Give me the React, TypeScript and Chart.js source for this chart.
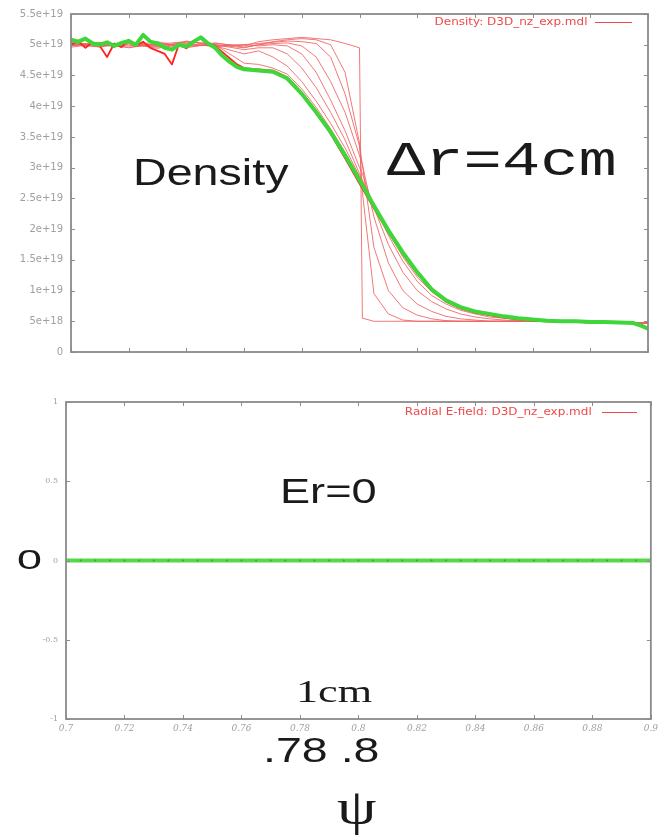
import React, { useEffect, useRef } from "react";
import { Chart, registerables } from "chart.js";
Chart.register(...registerables);

// ---------- Density panel (values in units of 1e19 m^-3) ----------
const psiMain = [
  0.7, 0.7025, 0.705, 0.7075, 0.71, 0.7125, 0.715, 0.7175, 0.72, 0.7225, 0.725, 0.7275, 0.73,
  0.7325, 0.735, 0.7375, 0.74, 0.7425, 0.745, 0.7475, 0.75, 0.7525, 0.755, 0.7575, 0.76,
  0.765, 0.77, 0.775, 0.78, 0.785, 0.79, 0.795, 0.8, 0.805, 0.81, 0.815, 0.82, 0.825, 0.83,
  0.835, 0.84, 0.845, 0.85, 0.855, 0.86, 0.865, 0.87, 0.875, 0.88, 0.885, 0.89, 0.895, 0.898, 0.9,
];
const densityGreen = [
  5.08, 5.05, 5.1, 5.02, 5.0, 5.04, 4.98, 5.03, 5.06, 5.0, 5.16, 5.05, 5.02,
  4.95, 4.92, 5.0, 4.97, 5.05, 5.12, 5.02, 4.95, 4.82, 4.72, 4.64, 4.6,
  4.58, 4.56, 4.45, 4.2, 3.9, 3.58, 3.2, 2.8, 2.38, 1.98, 1.62, 1.3, 1.02, 0.84,
  0.73, 0.66, 0.62, 0.58, 0.55, 0.53, 0.51, 0.5, 0.5, 0.49, 0.49, 0.48, 0.47, 0.42, 0.38,
];
const densityRed = [
  5.0, 5.06, 4.95, 5.04, 4.98, 4.8, 5.02, 4.96, 5.08, 4.98, 5.05, 4.95, 4.9,
  4.85, 4.68, 5.02, 4.94, 5.06, 5.1, 5.0, 4.98, 4.88, 4.78, 4.68, 4.62,
  4.6, 4.58, 4.47, 4.22, 3.92, 3.55, 3.15, 2.74, 2.34, 1.95, 1.6, 1.28, 1.0, 0.82,
  0.71, 0.64, 0.6, 0.56, 0.53, 0.51, 0.5, 0.49, 0.49, 0.48, 0.48, 0.47, 0.47, 0.44, 0.36,
];

const psiFan = [
  0.7, 0.71, 0.72, 0.73, 0.74, 0.75, 0.76, 0.765, 0.77, 0.775, 0.78, 0.785, 0.79, 0.795, 0.8,
  0.801, 0.805, 0.81, 0.815, 0.82, 0.825, 0.83, 0.835, 0.84, 0.845, 0.85, 0.86, 0.87, 0.88, 0.89, 0.9,
];
const fan0 = [5.02, 4.96, 5.05, 4.98, 5.04, 5.02, 4.98, 5.05, 5.08, 5.1, 5.12, 5.1, 5.08, 5.02, 4.95,
  0.55, 0.5, 0.5, 0.5, 0.5, 0.5, 0.5, 0.5, 0.5, 0.5, 0.5, 0.5, 0.5, 0.5, 0.49, 0.47];
const fan1 = [4.98, 5.04, 4.95, 5.02, 4.97, 5.0, 4.95, 5.0, 5.05, 5.08, 5.1, 5.08, 5.0, 4.55, 3.4,
  2.6, 0.95, 0.62, 0.52, 0.5, 0.5, 0.5, 0.5, 0.5, 0.5, 0.5, 0.5, 0.5, 0.5, 0.49, 0.47];
const fan2 = [5.05, 4.98, 5.02, 4.94, 5.06, 4.98, 5.0, 5.02, 5.04, 5.06, 5.05, 5.02, 4.8, 4.2, 3.35,
  3.05, 1.7, 1.0, 0.72, 0.6, 0.54, 0.51, 0.5, 0.5, 0.5, 0.5, 0.5, 0.5, 0.5, 0.49, 0.47];
const fan3 = [4.96, 5.02, 4.98, 5.05, 4.95, 5.03, 4.96, 5.0, 5.02, 5.03, 4.98, 4.8, 4.4, 3.9, 3.2,
  3.05, 2.2, 1.45, 1.0, 0.78, 0.66, 0.58, 0.54, 0.52, 0.5, 0.5, 0.5, 0.5, 0.5, 0.49, 0.47];
const fan4 = [5.0, 4.97, 5.04, 4.99, 5.02, 4.97, 5.0, 4.98, 5.0, 4.98, 4.85, 4.55, 4.1, 3.6, 3.0,
  2.9, 2.35, 1.75, 1.3, 1.0, 0.82, 0.7, 0.62, 0.57, 0.54, 0.52, 0.5, 0.5, 0.5, 0.49, 0.47];
const fan5 = [5.03, 4.99, 4.96, 5.01, 5.05, 5.0, 4.92, 4.95, 4.95, 4.85, 4.62, 4.3, 3.9, 3.45, 2.9,
  2.8, 2.4, 1.9, 1.48, 1.15, 0.92, 0.78, 0.68, 0.62, 0.57, 0.55, 0.51, 0.5, 0.5, 0.49, 0.47];
const fan6 = [4.99, 5.03, 5.0, 4.96, 5.0, 4.98, 4.85, 4.9, 4.8, 4.65, 4.4, 4.08, 3.72, 3.32, 2.86,
  2.77, 2.4, 1.95, 1.55, 1.22, 0.98, 0.82, 0.71, 0.65, 0.6, 0.57, 0.53, 0.51, 0.5, 0.49, 0.47];
const fan7 = [5.01, 5.0, 5.03, 4.97, 4.99, 5.0, 4.7, 4.68, 4.62, 4.52, 4.28, 3.98, 3.63, 3.25, 2.82,
  2.74, 2.38, 1.97, 1.58, 1.26, 1.0, 0.84, 0.73, 0.66, 0.62, 0.58, 0.53, 0.51, 0.5, 0.49, 0.47];
const fans = [fan0, fan1, fan2, fan3, fan4, fan5, fan6, fan7];

// ---------- Radial E-field panel ----------
const psiE = [
  0.7, 0.705, 0.71, 0.715, 0.72, 0.725, 0.73, 0.735, 0.74, 0.745, 0.75, 0.755, 0.76, 0.765,
  0.77, 0.775, 0.78, 0.785, 0.79, 0.795, 0.8, 0.805, 0.81, 0.815, 0.82, 0.825, 0.83, 0.835,
  0.84, 0.845, 0.85, 0.855, 0.86, 0.865, 0.87, 0.875, 0.88, 0.885, 0.89, 0.895, 0.9,
];
const erGreen = [
  0, 0, 0, 0, 0, 0, 0, 0, 0, 0, 0, 0, 0, 0, 0, 0, 0, 0, 0, 0, 0,
  0, 0, 0, 0, 0, 0, 0, 0, 0, 0, 0, 0, 0, 0, 0, 0, 0, 0, 0, 0,
];
const erRed = [
  0, 0, 0, 0, 0, 0, 0, 0, 0, 0, 0, 0, 0, 0, 0, 0, 0, 0, 0, 0, 0,
  0, 0, 0, 0, 0, 0, 0, 0, 0, 0, 0, 0, 0, 0, 0, 0, 0, 0, 0, 0,
];

const GREEN = "#3fd63a";
const RED = "#ff2222";
const PINK = "rgba(238,96,96,0.85)";

function pts(xs: number[], ys: number[]) {
  return xs.map((x, i) => ({ x, y: ys[i] }));
}

function fmtDensity(v: number) {
  if (Math.abs(v) < 1e-9) return "0";
  if (v < 1) return `${Math.round(v * 10)}e+18`;
  return `${Number(v.toFixed(1))}e+19`;
}

const boxPlugin = {
  id: "gnuBox",
  afterDraw(chart: any) {
    const { ctx, chartArea: a, scales } = chart;
    const L = 4;
    ctx.save();
    ctx.strokeStyle = "#8c8c8c";
    ctx.lineWidth = 1;
    ctx.beginPath();
    scales.x.ticks.forEach((t: any) => {
      const px = Math.round(scales.x.getPixelForValue(t.value)) + 0.5;
      ctx.moveTo(px, a.bottom);
      ctx.lineTo(px, a.bottom - L);
      ctx.moveTo(px, a.top);
      ctx.lineTo(px, a.top + L);
    });
    scales.y.ticks.forEach((t: any) => {
      const py = Math.round(scales.y.getPixelForValue(t.value)) + 0.5;
      ctx.moveTo(a.left, py);
      ctx.lineTo(a.left + L, py);
      ctx.moveTo(a.right, py);
      ctx.lineTo(a.right - L, py);
    });
    ctx.stroke();
    ctx.lineWidth = 1.8;
    ctx.strokeStyle = "#8a8a8a";
    ctx.strokeRect(a.left, a.top, a.right - a.left, a.bottom - a.top);
    ctx.restore();
  },
};

const lineBase = { pointRadius: 0, tension: 0, borderJoinStyle: "round" as const, fill: false };
const noGrid = { display: false, drawTicks: false, tickLength: 0 };

export default function App() {
  const topRef = useRef<HTMLCanvasElement>(null);
  const botRef = useRef<HTMLCanvasElement>(null);

  useEffect(() => {
    const top = new Chart(topRef.current!, {
      type: "line",
      data: {
        datasets: [
          { ...lineBase, data: pts(psiMain, densityGreen), borderColor: GREEN, borderWidth: 4 },
          { ...lineBase, data: pts(psiMain, densityRed), borderColor: RED, borderWidth: 1.8 },
          ...fans.map((f) => ({ ...lineBase, data: pts(psiFan, f), borderColor: PINK, borderWidth: 1 })),
        ],
      },
      options: {
        animation: false,
        responsive: false,
        events: [],
        plugins: { legend: { display: false }, tooltip: { enabled: false } },
        layout: { padding: { left: 0, right: 14, top: 12, bottom: 0 } },
        scales: {
          x: {
            type: "linear",
            min: 0.7,
            max: 0.9,
            ticks: { display: false, stepSize: 0.02 },
            grid: noGrid,
            border: { display: false },
            afterFit: (s: any) => {
              s.height = 18;
            },
          },
          y: {
            min: 0,
            max: 5.5,
            ticks: {
              stepSize: 0.5,
              padding: 8,
              color: "#a0a0a0",
              font: { family: "DejaVu Sans", size: 10 },
              callback: (v: any) => fmtDensity(Number(v)),
            },
            grid: noGrid,
            border: { display: false },
            afterFit: (s: any) => {
              s.width = 71;
            },
          },
        },
      },
      plugins: [boxPlugin],
    } as any);

    const bot = new Chart(botRef.current!, {
      type: "line",
      data: {
        datasets: [
          {
            ...lineBase,
            data: pts(psiE, erGreen),
            borderColor: "#55d84a",
            borderWidth: 4,
            pointRadius: 1,
            pointBackgroundColor: "#3aa832",
            pointBorderWidth: 0,
          },
          { ...lineBase, data: pts(psiE, erRed), borderColor: RED, borderWidth: 1 },
        ],
      },
      options: {
        animation: false,
        responsive: false,
        events: [],
        plugins: { legend: { display: false }, tooltip: { enabled: false } },
        layout: { padding: { left: 0, right: 10, top: 22, bottom: 0 } },
        scales: {
          x: {
            type: "linear",
            min: 0.7,
            max: 0.9,
            ticks: {
              stepSize: 0.02,
              padding: 4,
              color: "#a0a0a0",
              font: { family: "DejaVu Serif", size: 9, style: "italic" },
              callback: (v: any) => String(Number(Number(v).toFixed(2))),
            },
            grid: noGrid,
            border: { display: false },
            afterFit: (s: any) => {
              s.height = 21;
            },
          },
          y: {
            min: -1,
            max: 1,
            ticks: {
              stepSize: 0.5,
              padding: 8,
              color: "#a0a0a0",
              font: { family: "DejaVu Serif", size: 8 },
              callback: (v: any) => String(Number(Number(v).toFixed(1))),
            },
            grid: noGrid,
            border: { display: false },
            afterFit: (s: any) => {
              s.width = 66;
            },
          },
        },
      },
      plugins: [boxPlugin],
    } as any);

    return () => {
      top.destroy();
      bot.destroy();
    };
  }, []);

  const txt = (
    content: string,
    left: number,
    top: number,
    size: number,
    family: string,
    sx: number,
    extra: React.CSSProperties = {}
  ) => (
    <div
      style={{
        position: "absolute",
        left,
        top,
        fontSize: size,
        fontFamily: family,
        lineHeight: 1,
        whiteSpace: "nowrap",
        color: "#1a1a1a",
        transform: `scaleX(${sx})`,
        transformOrigin: "left top",
        ...extra,
      }}
    >
      {content}
    </div>
  );

  const legend = (label: string, rightEdge: number, y: number, lineLeft: number, lineRight: number) => (
    <>
      <div
        style={{
          position: "absolute",
          right: 662 - rightEdge,
          top: y - 5,
          fontSize: 10,
          lineHeight: 1,
          fontFamily: "DejaVu Sans",
          color: "#f04848",
          whiteSpace: "nowrap",
          transform: "scaleX(1.2)",
          transformOrigin: "right top",
        }}
      >
        {label}
      </div>
      <div
        style={{
          position: "absolute",
          left: lineLeft,
          top: y,
          width: lineRight - lineLeft,
          height: 1,
          background: "#f04848",
        }}
      />
    </>
  );

  return (
    <div
      style={{
        position: "absolute",
        left: 0,
        top: 0,
        width: 662,
        height: 836,
        background: "#ffffff",
        overflow: "hidden",
      }}
    >
      <canvas ref={topRef} width={662} height={370} style={{ position: "absolute", left: 0, top: 0 }} />
      <canvas ref={botRef} width={662} height={360} style={{ position: "absolute", left: 0, top: 380 }} />
      {legend("Density: D3D_nz_exp.mdl", 587, 22, 595, 632)}
      {legend("Radial E-field: D3D_nz_exp.mdl", 592, 412, 602, 637)}
      {txt("Density", 133, 154, 37, "'Liberation Sans', Arial, sans-serif", 1.26)}
      {txt("\u0394r=4cm", 387, 138, 48, "'Liberation Mono', 'Courier New', monospace", 1.33)}
      {txt("Er=0", 280, 473, 35, "'Liberation Sans', Arial, sans-serif", 1.29)}
      {txt("0", 17, 546, 28, "'Liberation Sans', Arial, sans-serif", 1.6)}
      {txt("1cm", 296, 675, 32.5, "'Liberation Serif', 'Times New Roman', serif", 1.36)}
      {txt(".78 .8", 263, 732, 35, "'Liberation Sans', Arial, sans-serif", 1.33)}
      {txt("\u03c8", 337, 782, 50, "'Liberation Serif', 'Times New Roman', serif", 1.26)}
    </div>
  );
}
